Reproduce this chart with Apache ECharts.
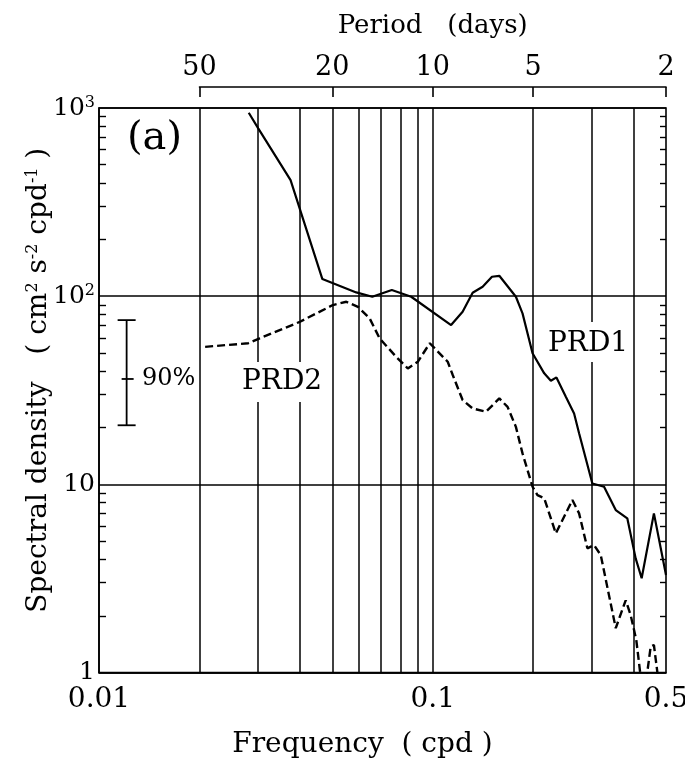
<!DOCTYPE html>
<html><head><meta charset="utf-8">
<script src="https://cdn.jsdelivr.net/npm/echarts@6/dist/echarts.min.js"></script>
<style>html,body{margin:0;padding:0;background:#fff}#c{width:685px;height:761px}</style>
</head><body><div id="c"></div>
<script>
// ---- data ----
const prd1Freq = [0.0281,0.0300,0.0375,0.0467,0.0590,0.0659,0.0754,0.0862,0.1135,0.1229,0.1317,0.1411,0.1505,0.1583,0.1775,0.1858,0.1991,0.2158,0.2259,0.2348,0.2505,0.2652,0.2745,0.3008,0.3261,0.3535,0.3828,0.4056,0.4227,0.4600,0.5000];
const prd1Vals = [943,779,414,123.3,104.7,99.3,107.8,99.3,70.2,82.6,104.2,112.2,126.8,128.3,99.3,81.0,49.7,38.9,35.5,37.0,29.2,23.8,18.7,10.1,9.71,7.30,6.60,4.04,3.17,7.01,3.3];
const prd2Freq = [0.0208,0.0280,0.0303,0.0400,0.0502,0.0551,0.0597,0.0647,0.0693,0.0777,0.0842,0.0902,0.0980,0.1109,0.1148,0.1229,0.1317,0.1444,0.1583,0.1676,0.1775,0.1858,0.1991,0.2060,0.2158,0.2338,0.2621,0.2745,0.2907,0.3043,0.3187,0.3535,0.3786,0.3918,0.4073,0.4198,0.4300,0.4498,0.4600,0.4729,0.4850];
const prd2Vals = [53.8,56.2,59.7,73.1,89.7,93.4,87.8,76.2,59.7,47.6,41.3,44.8,56.2,44.8,38.1,28.05,25.3,24.3,28.6,25.8,20.2,14.6,9.71,8.77,8.43,5.49,8.25,7.01,4.57,4.76,4.21,1.72,2.42,2.02,1.49,0.95,0.75,1.37,1.40,0.95,0.7];
const gridFreqs = [0.02,0.03,0.04,0.05,0.06,0.07,0.08,0.09,0.1,0.2,0.3,0.4];
const periodTicks = [50,20,10,5,2];
const yMinorMantissas = [2,3,4,5,6,7,8,9];
const yDecades = [1,10,100];
const errBar = [0.0121, 20.6, 36.3, 74.6]; // freq, low, mid, high
const xRange = [0.01, 0.5];
const yRange = [1, 1000];

// ---- helpers ----
const FONT = 'DejaVu Serif';
const L10 = Math.log10;
const minorLogs = [];
yDecades.forEach(d => yMinorMantissas.forEach(m => minorLogs.push(L10(m * d))));
const periodLogs = periodTicks.map(p => L10(1 / p));

const G = {left: 99, right: 19, top: 108, bottom: 88.5};
const plotW = 685 - G.left - G.right;
const topLeft = G.left + plotW * (L10(1 / periodTicks[0]) - L10(xRange[0])) / (L10(xRange[1]) - L10(xRange[0]));

const black = '#000';
const chart = echarts.init(document.getElementById('c'), null, {renderer: 'canvas'});
const supFmt = v => {
  const e = Math.round(L10(v));
  if (e <= 1) return String(v);
  return '10{s|' + e + '}';
};

chart.setOption({
  animation: false,
  backgroundColor: '#fff',
  textStyle: {fontFamily: FONT, color: black},
  grid: [
    {left: G.left, right: G.right, top: G.top, bottom: G.bottom, containLabel: false, outerBoundsMode: 'none',
     show: true, borderColor: black, borderWidth: 1.6, backgroundColor: 'transparent'},
    {left: topLeft, right: G.right, top: 86, height: 1, show: false, containLabel: false, outerBoundsMode: 'none'}
  ],
  xAxis: [
    {
      type: 'log', logBase: 10, min: xRange[0], max: xRange[1], gridIndex: 0,
      axisLine: {lineStyle: {color: black, width: 1.6}},
      axisTick: {show: false},
      splitLine: {show: false},
      minorTick: {show: false},
      axisLabel: {fontFamily: FONT, fontSize: 28, color: black, margin: 13, showMinLabel: true, showMaxLabel: true},
      name: 'Frequency  ( cpd )', nameLocation: 'middle', nameGap: 58, nameMoveOverlap: false,
      nameTextStyle: {fontFamily: FONT, fontSize: 28, color: black, padding: [0, 40, 0, 0]}
    },
    {
      type: 'value', gridIndex: 1, position: 'top',
      min: L10(1 / periodTicks[0]), max: L10(1 / periodTicks[periodTicks.length - 1]),
      axisLine: {lineStyle: {color: black, width: 1.6}},
      axisTick: {inside: true, length: 10, customValues: periodLogs, lineStyle: {color: black, width: 1.6}},
      axisLabel: {customValues: periodLogs, formatter: v => String(Math.round(1 / Math.pow(10, v))), fontFamily: FONT, fontSize: 27, color: black, margin: 5},
      splitLine: {show: false},
      name: 'Period   (days)', nameLocation: 'middle', nameGap: 47,
      nameTextStyle: {fontFamily: FONT, fontSize: 26, color: black}
    }
  ],
  yAxis: [
    {
      type: 'log', logBase: 10, min: yRange[0], max: yRange[1], gridIndex: 0,
      axisLine: {lineStyle: {color: black, width: 1.6}},
      axisTick: {show: false},
      minorTick: {show: false},
      splitLine: {show: true, lineStyle: {color: black, width: 1.5}},
      axisLabel: {
        formatter: supFmt, fontFamily: FONT, fontSize: 25, color: black, margin: 4,
        rich: {s: {fontFamily: FONT, fontSize: 16, color: black, verticalAlign: 'top', padding: [0, 0, 10, 0]}}
      },
      name: 'Spectral density   ( cm{s|2} s{s|-2} cpd{s|-1} )', nameLocation: 'middle', nameGap: 46, nameMoveOverlap: false,
      nameTextStyle: {
        fontFamily: FONT, fontSize: 28, color: black, padding: [0, 0, 0, 20],
        rich: {s: {fontFamily: FONT, fontSize: 16, color: black, verticalAlign: 'top', padding: [0, 0, 11, 0]}}
      }
    },
    {
      type: 'value', gridIndex: 0, position: 'left', min: 0, max: 3,
      axisLine: {show: false}, axisLabel: {show: false}, splitLine: {show: false},
      axisTick: {inside: true, length: 7, customValues: minorLogs, lineStyle: {color: black, width: 1.4}}
    },
    {
      type: 'value', gridIndex: 0, position: 'right', min: 0, max: 3,
      axisLine: {show: false}, axisLabel: {show: false}, splitLine: {show: false},
      axisTick: {inside: true, length: 6, customValues: minorLogs, lineStyle: {color: black, width: 1.4}}
    },
    {type: 'value', gridIndex: 1, show: false}
  ],
  series: [
    {
      name: 'PRD1', type: 'line', xAxisIndex: 0, yAxisIndex: 0,
      data: prd1Freq.map((f, i) => [f, prd1Vals[i]]),
      showSymbol: false, symbol: 'none', clip: true, z: 4,
      lineStyle: {color: black, width: 2.2},
      markLine: {
        silent: true, symbol: ['none', 'none'], label: {show: false},
        lineStyle: {color: black, width: 1.5, type: 'solid'},
        emphasis: {disabled: true},
        data: gridFreqs.map(f => ({xAxis: f}))
      }
    },
    {
      name: 'PRD2', type: 'line', xAxisIndex: 0, yAxisIndex: 0,
      data: prd2Freq.map((f, i) => [f, prd2Vals[i]]),
      showSymbol: false, symbol: 'none', clip: true, z: 4,
      lineStyle: {color: black, width: 2.4, type: [8, 4]}
    },
    {
      name: '90%', type: 'custom', xAxisIndex: 0, yAxisIndex: 0,
      data: [errBar], encode: {x: 0, y: [1, 2, 3]}, z: 5,
      renderItem: (params, api) => {
        const x = api.value(0);
        const lo = api.coord([x, api.value(1)]);
        const mi = api.coord([x, api.value(2)]);
        const hi = api.coord([x, api.value(3)]);
        const st = {stroke: black, lineWidth: 1.8};
        return {type: 'group', children: [
          {type: 'line', shape: {x1: lo[0], y1: lo[1], x2: hi[0], y2: hi[1]}, style: st},
          {type: 'line', shape: {x1: lo[0] - 9, y1: lo[1], x2: lo[0] + 9, y2: lo[1]}, style: st},
          {type: 'line', shape: {x1: hi[0] - 9, y1: hi[1], x2: hi[0] + 9, y2: hi[1]}, style: st},
          {type: 'line', shape: {x1: mi[0] - 5, y1: mi[1], x2: mi[0] + 7, y2: mi[1]}, style: st}
        ]};
      }
    }
  ],
  graphic: [
    {type: 'text', left: 127, top: 119, z: 100, style: {text: '(a)', fontFamily: FONT, fontSize: 40, fill: black}},
    {type: 'text', left: 142, top: 367, z: 100, style: {text: '90%', fontFamily: FONT, fontSize: 24, fill: black}},
    {type: 'text', left: 240, top: 362, z: 100, style: {text: 'PRD2', fontFamily: FONT, fontSize: 28, fill: black, backgroundColor: '#fff', padding: [6, 2, 6, 2]}},
    {type: 'text', left: 546, top: 322, z: 100, style: {text: 'PRD1', fontFamily: FONT, fontSize: 28, fill: black, backgroundColor: '#fff', padding: [8, 2, 4, 2]}}
  ]
});
</script></body></html>
